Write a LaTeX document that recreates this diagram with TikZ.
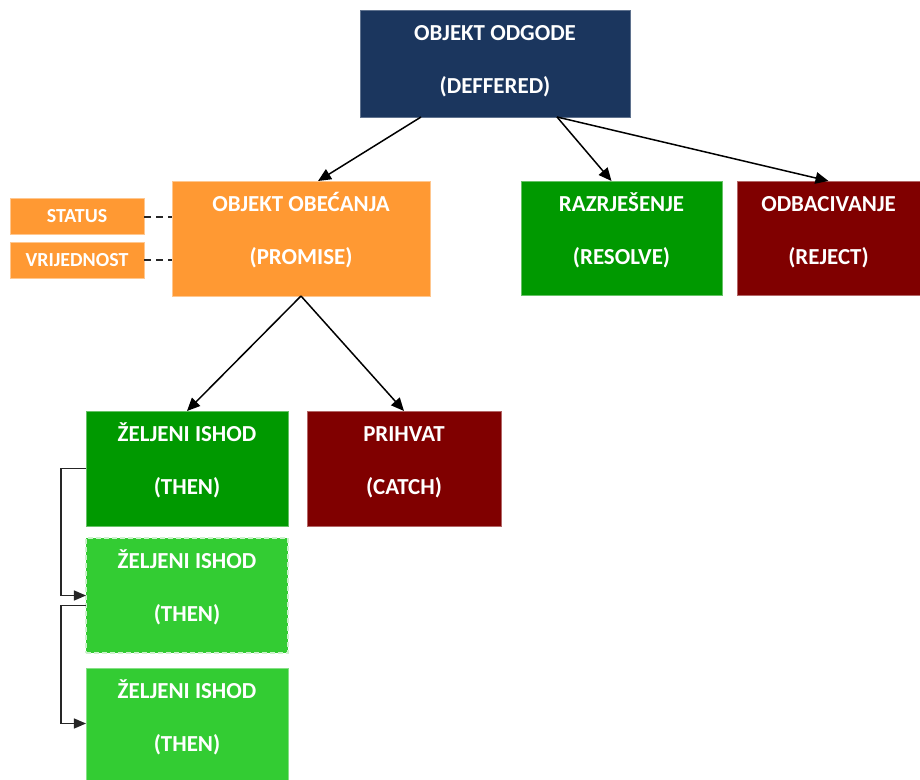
\documentclass[tikz,border=0pt]{standalone}
\usepackage{fontspec}
\setmainfont{Carlito}
\usetikzlibrary{arrows.meta,calc}
\definecolor{navybox}{HTML}{1B365E}
\definecolor{orangebox}{HTML}{FF9933}
\definecolor{greenbox}{HTML}{009900}
\definecolor{lightgreenbox}{HTML}{33CC33}
\definecolor{redbox}{HTML}{800000}
% #1 width, #2 height, #3 first line, #4 second line (top anchored text)
\newcommand\twolines[4]{\parbox[c][#2][t]{#1}{\centering\vspace*{0pt}\rule{0pt}{30.5bp}#3\\[29bp]#4\par}}
\begin{document}
\begin{tikzpicture}[x=1bp,y=-1bp,
  bigbox/.style={rectangle, inner sep=0pt, outer sep=0pt, text=white, line width=0.7bp,
    font=\bfseries\fontsize{23}{24}\selectfont},
  smallbox/.style={rectangle, inner sep=0pt, outer sep=0pt, text=white, line width=0.7bp,
    fill=orangebox, draw=orangebox!55!white,
    minimum width=134bp, minimum height=36bp,
    font=\bfseries\fontsize{20}{22}\selectfont},
  arr/.style={draw=black, line width=1.5bp, -{Triangle[length=13bp,width=11.5bp]}},
  sidearr/.style={draw=black!85, line width=1.2bp, -{Triangle[length=12bp,width=10bp]}},
  dashline/.style={draw=black!85, line width=2bp, dash pattern=on 7bp off 5bp}
]
\useasboundingbox (0,0) rectangle (920,780);
\fill[white] (0,0) rectangle (920,780);

\node[bigbox, fill=navybox, draw=navybox!70!white, minimum width=270bp, minimum height=107bp] (def) at (495,63.5) {\twolines{270bp}{107bp}{OBJEKT ODGODE}{(DEFFERED)}};
\node[bigbox, fill=orangebox, draw=orangebox!55!white, minimum width=258bp, minimum height=115bp] (prom) at (301,238.5) {\twolines{258bp}{115bp}{OBJEKT OBEĆANJA}{(PROMISE)}};
\node[bigbox, fill=greenbox, draw=greenbox!60!white, minimum width=201bp, minimum height=114bp] (res) at (621.5,238) {\twolines{201bp}{114bp}{RAZRJEŠENJE}{(RESOLVE)}};
\node[bigbox, fill=redbox, draw=redbox!60!white, minimum width=183bp, minimum height=114bp] (rej) at (828.5,238) {\twolines{183bp}{114bp}{ODBACIVANJE}{(REJECT)}};

\node[smallbox] (status) at (77,216.5) {STATUS};
\node[smallbox] (vrij) at (77,260) {VRIJEDNOST};

\node[bigbox, fill=greenbox, draw=greenbox!60!white, minimum width=202bp, minimum height=115bp] (then1) at (187,468.5) {\twolines{202bp}{115bp}{ŽELJENI ISHOD}{(THEN)}};
\node[bigbox, fill=redbox, draw=redbox!60!white, minimum width=194bp, minimum height=115bp] (catch) at (404,468.5) {\twolines{194bp}{115bp}{PRIHVAT}{(CATCH)}};
\node[bigbox, fill=lightgreenbox, draw=lightgreenbox!25!white, line width=1.5bp, dash pattern=on 5bp off 3bp, minimum width=202bp, minimum height=115bp] (then2) at (187,595.5) {\twolines{202bp}{115bp}{ŽELJENI ISHOD}{(THEN)}};
\node[bigbox, fill=lightgreenbox, draw=lightgreenbox!60!white, minimum width=202bp, minimum height=115bp] (then3) at (187,725.5) {\twolines{202bp}{115bp}{ŽELJENI ISHOD}{(THEN)}};

\draw[arr] ([xshift=-74bp]def.south) -- ([xshift=17bp]prom.north);
\draw[arr] ([xshift=62bp]def.south) -- ([xshift=-10bp]res.north);
\draw[arr] ([xshift=62bp]def.south) -- (rej.north);
\draw[arr] (prom.south) -- (then1.north);
\draw[arr] (prom.south) -- (catch.north);

\draw[dashline] (status.east) -- (status.east -| prom.west);
\draw[dashline] (vrij.east) -- (vrij.east -| prom.west);

\draw[sidearr] (then1.west) -- ++(-25,0) |- (then2.west);
\draw[sidearr] ([yshift=-10bp]then2.west) -- ++(-25,0) |- ([yshift=2bp]then3.west);
\end{tikzpicture}
\end{document}
